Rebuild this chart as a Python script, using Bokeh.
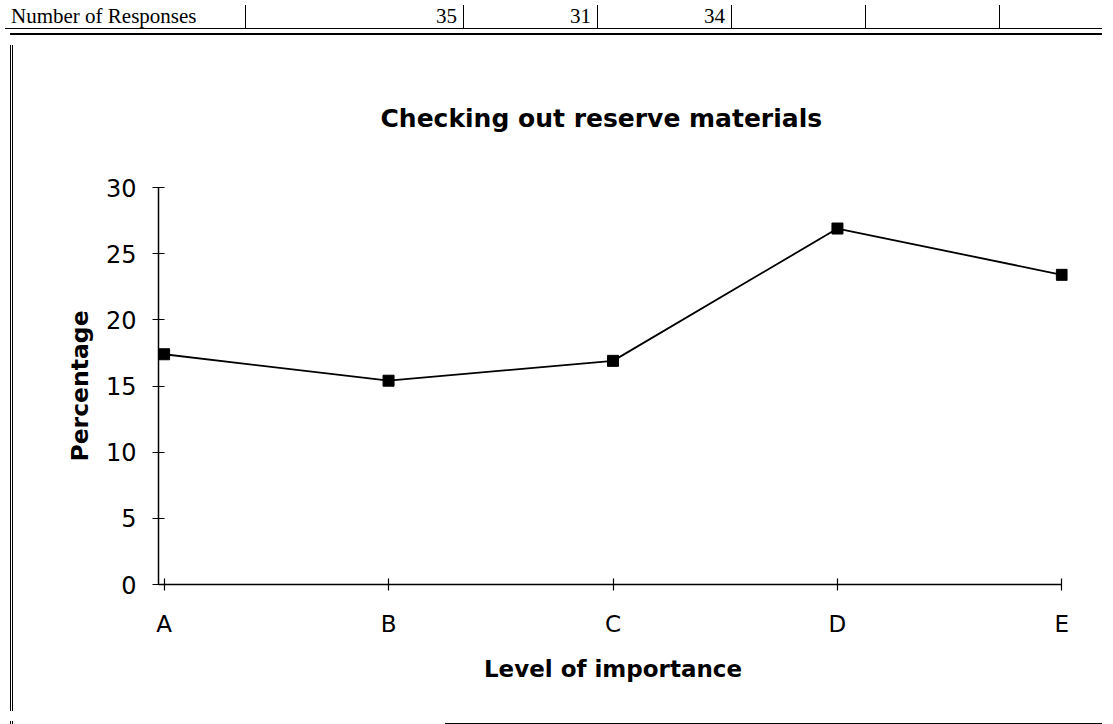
from bokeh.plotting import figure
from bokeh.models import Range1d, FixedTicker, Div
from bokeh.layouts import column, row
from bokeh.embed import file_html
from bokeh.resources import INLINE

# ---- data ----
levels = ["A", "B", "C", "D", "E"]
percentages = [17.4, 15.4, 16.9, 26.9, 23.4]
y_ticks = [0, 5, 10, 15, 20, 25, 30]
responses_shown = ["35", "31", "34"]
title_text = "Checking out reserve materials"
x_label = "Level of importance"
y_label = "Percentage"
row_label = "Number of Responses"

W, H = 1097, 708
TOP_H, BOT_H, LEFT_W = 30, 12, 14
MID_H = H - TOP_H - BOT_H
FONT = "DejaVu Sans"
PAD = 0.025
# frame geometry in page-canvas pixels
FL, FR, FT, FB = 148, 1057, 177, 574
X0, X1 = -PAD, len(levels) - 1 + PAD
Y0, Y1 = y_ticks[0], y_ticks[-1]

xs = list(range(len(levels)))
PW = W - LEFT_W

p = figure(width=PW, height=MID_H, output_backend="svg", toolbar_location=None,
           x_range=Range1d(X0, X1), y_range=Range1d(Y0, Y1),
           min_border_left=FL - LEFT_W, min_border_right=PW - (FR - LEFT_W),
           min_border_top=FT - TOP_H, min_border_bottom=MID_H - (FB - TOP_H),
           title=title_text)
p.outline_line_color = None
p.xgrid.visible = False
p.ygrid.visible = False

p.title.align = "left"
p.title.offset = 222
p.title.text_font = FONT
p.title.text_font_size = "25px"
p.title.text_font_style = "bold"
p.title.text_color = "black"
p.title.text_line_height = 1.0
p.title.standoff = 110

# axes
xa = p.xaxis[0]
xa.ticker = FixedTicker(ticks=xs)
xa.major_label_overrides = {i: lab for i, lab in enumerate(levels)}
xa.bounds = (X0, len(levels) - 1)
xa.minor_tick_line_color = None
xa.major_tick_in = 6
xa.major_tick_out = 6
xa.axis_line_width = 1.5
xa.major_tick_line_width = 1.2
xa.axis_line_color = "black"
xa.major_tick_line_color = "black"
xa.major_label_text_font = FONT
xa.major_label_text_font_size = "23px"
xa.major_label_text_color = "black"
xa.major_label_standoff = 20
xa.axis_label = x_label
xa.axis_label_text_font = FONT
xa.axis_label_text_font_size = "23px"
xa.axis_label_text_font_style = "bold"
xa.axis_label_text_color = "black"
xa.axis_label_standoff = 16

ya = p.yaxis[0]
ya.ticker = FixedTicker(ticks=y_ticks)
ya.minor_tick_line_color = None
ya.major_tick_in = 6
ya.major_tick_out = 6
ya.axis_line_width = 1.5
ya.major_tick_line_width = 1.2
ya.axis_line_color = "black"
ya.major_tick_line_color = "black"
ya.major_label_text_font = FONT
ya.major_label_text_font_size = "24px"
ya.major_label_text_color = "black"
ya.major_label_standoff = 16
ya.axis_label = y_label
ya.axis_label_text_font = FONT
ya.axis_label_text_font_size = "23.5px"
ya.axis_label_text_font_style = "bold"
ya.axis_label_text_color = "black"
ya.axis_label_standoff = 9

# series
p.line(xs, percentages, line_color="black", line_width=1.8)
p.scatter(xs, percentages, marker="square", size=11, fill_color="black", line_color="black")

# ---- scanned page fragments around the chart (table row above, borders) ----
dividers = [240, 458, 592, 726, 860, 994]
parts = ['<div style="position:relative;width:%dpx;height:%dpx;'
         'font-family:\'Liberation Serif\',serif;color:#000;">' % (W, TOP_H)]
parts.append('<div style="position:absolute;left:0;top:23px;width:%dpx;height:0;'
             'border-top:1.5px solid #000;"></div>' % W)
parts.append('<div style="position:absolute;left:6px;top:28px;width:%dpx;height:0;'
             'border-top:2px solid #000;"></div>' % (W - 6))
parts.append('<div style="position:absolute;left:5px;top:28px;width:3px;height:2px;'
             'border-left:1.5px solid #000;border-right:1.5px solid #000;"></div>')
parts.append('<div style="position:absolute;left:6px;top:0;font-size:21px;line-height:22px;'
             'white-space:nowrap;">%s</div>' % row_label)
for d in dividers:
    parts.append('<div style="position:absolute;left:%dpx;top:0;width:0;height:23px;'
                 'border-left:1.5px solid #000;"></div>' % d)
for i, txt in enumerate(responses_shown):
    parts.append('<div style="position:absolute;right:%dpx;top:0;font-size:21px;line-height:22px;'
                 'white-space:nowrap;">%s</div>' % (W - dividers[i + 1] + 6, txt))
parts.append('</div>')
top_div = Div(text="".join(parts), width=W, height=TOP_H)

left_div = Div(text='<div style="margin-left:5px;width:3px;height:%dpx;'
                    'border-left:1.5px solid #000;border-right:1.5px solid #000;"></div>' % MID_H,
               width=LEFT_W, height=MID_H)

bparts = ['<div style="position:relative;width:%dpx;height:%dpx;overflow:hidden;">' % (W, BOT_H)]
bparts.append('<div style="position:absolute;left:5px;top:0;width:3px;height:%dpx;'
              'border-left:1.5px solid #000;border-right:1.5px solid #000;"></div>' % BOT_H)
bparts.append('<div style="position:absolute;left:440px;top:2px;width:%dpx;height:0;'
              'border-top:2px solid #000;"></div>' % (W - 440))
for d in [612, 746, 880, 1014]:
    bparts.append('<div style="position:absolute;left:%dpx;top:2px;width:0;height:%dpx;'
                  'border-left:1.5px solid #000;"></div>' % (d, BOT_H))
bparts.append('</div>')
bottom_div = Div(text="".join(bparts), width=W, height=BOT_H)

layout = column(top_div, row(left_div, p), bottom_div)

open("out.html", "w").write(file_html(layout, INLINE))
